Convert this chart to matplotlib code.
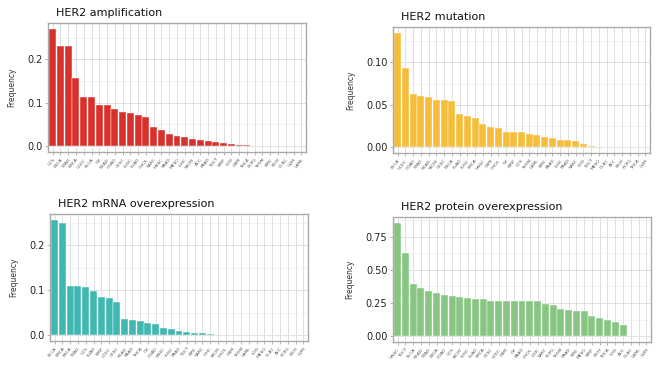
import matplotlib
matplotlib.use("Agg")
import matplotlib.pyplot as plt
import numpy as np

# --- data ---
amp_types = ["UCS", "ESCA", "STAD", "BRCA", "UCEC", "BLCA", "OV", "READ", "COAD", "CESC",
             "LUSC", "LUAD", "CHOL", "SARC", "HNSC", "PAAD", "MESO", "LIHC", "SKCM", "ACC",
             "PRAD", "TGCT", "KIRP", "LGG", "GBM", "THCA", "PCPG", "THYM", "KIRC", "KICH",
             "DLBC", "UVM", "LAML"]
amp_freq = [0.270, 0.231, 0.230, 0.157, 0.114, 0.112, 0.095, 0.094, 0.086, 0.079,
            0.077, 0.071, 0.068, 0.044, 0.037, 0.029, 0.024, 0.022, 0.017, 0.014,
            0.012, 0.009, 0.007, 0.004, 0.003, 0.003, 0, 0, 0, 0, 0, 0, 0]

mut_types = ["BLCA", "UCEC", "COAD", "STAD", "READ", "SKCM", "CESC", "ESCA", "LUAD", "LUSC",
             "BRCA", "HNSC", "GBM", "CHOL", "OV", "KIRP", "UCS", "THYM", "LAML", "KIRC",
             "PAAD", "LIHC", "PRAD", "SARC", "LGG", "TGCT", "MESO", "DLBC", "ACC", "KICH",
             "PCPG", "THCA", "UVM"]
mut_freq = [0.135, 0.093, 0.063, 0.060, 0.059, 0.056, 0.056, 0.055, 0.039, 0.037,
            0.035, 0.028, 0.024, 0.023, 0.018, 0.018, 0.018, 0.016, 0.014, 0.012,
            0.011, 0.008, 0.008, 0.007, 0.004, 0.002, 0, 0, 0, 0, 0, 0, 0]

mrna_types = ["BLCA", "BRCA", "ESCA", "STAD", "UCS", "LUAD", "KIRP", "UCEC", "CESC", "READ",
              "PAAD", "THCA", "OV", "COAD", "HNSC", "LUSC", "PRAD", "TGCT", "KIRC", "SARC",
              "LIHC", "SKCM", "CHOL", "GBM", "THYM", "LAML", "LGG", "MESO", "DLBC", "ACC",
              "PCPG", "KICH", "UVM"]
mrna_freq = [0.257, 0.250, 0.110, 0.109, 0.108, 0.098, 0.084, 0.082, 0.073, 0.036,
             0.034, 0.031, 0.027, 0.024, 0.017, 0.013, 0.010, 0.007, 0.006, 0.004,
             0.002, 0, 0, 0, 0, 0, 0, 0, 0, 0, 0, 0, 0]

prot_types = ["HNSC", "TGCT", "BLCA", "READ", "STAD", "ESCA", "COAD", "UCS", "SKCM", "LUSC",
              "LUAD", "BRCA", "CESC", "UCEC", "GBM", "OV", "PAAD", "CHOL", "LIHC", "SARC",
              "PCPG", "THYM", "PRAD", "KIRC", "MESO", "KIRP", "KICH", "THCA", "LGG", "ACC",
              "DLBC", "LAML", "UVM"]
prot_freq = [0.854, 0.627, 0.391, 0.364, 0.339, 0.329, 0.312, 0.304, 0.292, 0.287,
             0.282, 0.277, 0.268, 0.268, 0.267, 0.267, 0.266, 0.266, 0.262, 0.243,
             0.238, 0.205, 0.198, 0.188, 0.188, 0.151, 0.134, 0.124, 0.109, 0.084,
             0, 0, 0]

panels = [
    ("HER2 amplification", amp_types, amp_freq, "#d8302b", [0.0, 0.1, 0.2], "{:.1f}"),
    ("HER2 mutation", mut_types, mut_freq, "#f6bd3b", [0.0, 0.05, 0.10], "{:.2f}"),
    ("HER2 mRNA overexpression", mrna_types, mrna_freq, "#3fb8b1", [0.0, 0.1, 0.2], "{:.1f}"),
    ("HER2 protein overexpression", prot_types, prot_freq, "#86c680", [0.0, 0.25, 0.5, 0.75], "{:.2f}"),
]

# axes boxes in pixels: left, top, right, bottom
boxes = [(48, 23, 306, 152), (393, 27, 650, 153), (50, 214, 308, 341), (393, 217, 651, 342)]

W, H = 660, 374
fig = plt.figure(figsize=(W / 100, H / 100), dpi=100)
fig.patch.set_facecolor("white")

for (title, types, freq, color, ticks, fmt), (l, t, r, b) in zip(panels, boxes):
    ax = fig.add_axes([l / W, 1 - b / H, (r - l) / W, (b - t) / H])
    x = np.arange(len(types))
    ymax = max(freq)
    ax.set_xlim(-0.6, len(types) - 0.4)
    ax.set_ylim(-0.05 * ymax, 1.05 * ymax)
    ax.set_axisbelow(True)
    # grid like ggplot: major + minor y, x at every category
    ax.set_xticks(x)
    ax.set_yticks(ticks)
    minors = [(a + c) / 2 for a, c in zip(ticks[:-1], ticks[1:])]
    minors.append(ticks[-1] + (ticks[1] - ticks[0]) / 2)
    ax.set_yticks(minors, minor=True)
    ax.grid(True, which="major", color="#d9d9d9", linewidth=0.6)
    ax.grid(True, which="minor", axis="y", color="#ebebeb", linewidth=0.4)
    ax.bar(x, freq, width=0.9, color=color, edgecolor="white", linewidth=0.3)

    ax.set_xticklabels(types, rotation=50, ha="right", rotation_mode="anchor",
                       fontsize=3.2, color="#555555")
    ax.set_yticklabels([fmt.format(v) for v in ticks], fontsize=7, color="#222222")
    ax.tick_params(axis="both", which="major", length=2, width=0.5, color="#999999", pad=2)
    ax.tick_params(axis="y", which="minor", length=0)
    for s in ax.spines.values():
        s.set_color("#aaaaaa")
        s.set_linewidth(1.0)
    ax.set_ylabel("Frequency", fontsize=5.5, color="#333333", labelpad=8)
    ax.set_title(title, loc="left", fontsize=8, color="#111111", pad=5, x=0.03)

fig.savefig("out.png", dpi=100, facecolor="white")
